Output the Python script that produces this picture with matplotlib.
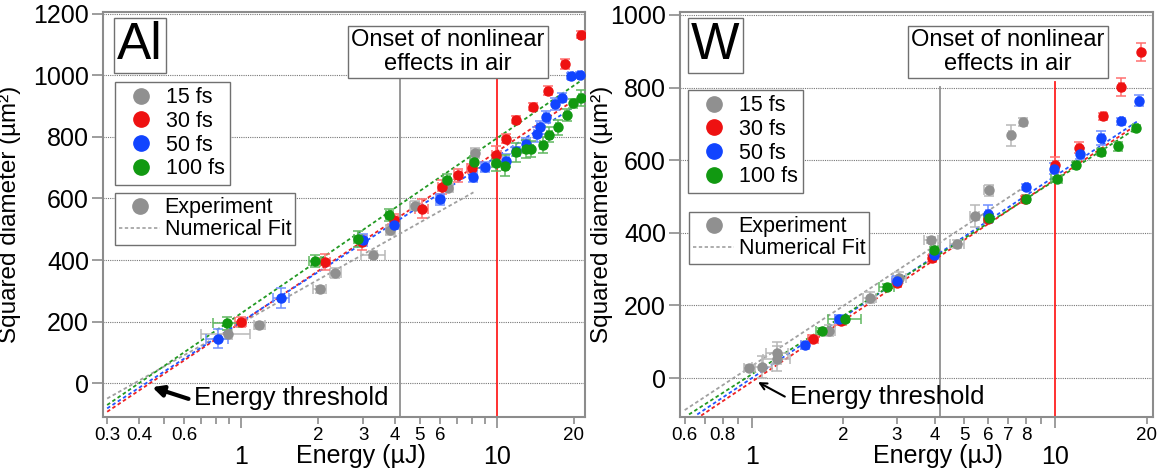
import matplotlib
matplotlib.use('Agg')
import matplotlib.pyplot as plt
from matplotlib.ticker import FixedLocator, FixedFormatter
from matplotlib.lines import Line2D

plt.rcParams['font.family'] = ['Liberation Sans', 'DejaVu Sans']

# ---------------- data: Al panel ----------------
al_gray_E = [0.89, 1.18, 2.03, 2.34, 3.29, 3.84, 4.78, 6.45, 8.2]
al_gray_D = [159, 188, 305, 358, 418, 498, 577, 635, 748]
al_gray_dE = [0.19, 0.06, 0.12, 0.12, 0.35, 0.15, 0.2, 0.3, 0.3]
al_gray_dD = [15, 12, 12, 15, 10, 15, 15, 12, 15]

al_red_E = [1.0, 2.13, 2.96, 3.96, 5.1, 6.08, 7.06, 7.96, 9.96, 10.9, 11.9, 13.8, 15.8, 18.4, 21.3]
al_red_D = [199, 394, 458, 529, 567, 637, 675, 698, 742, 794, 856, 898, 950, 1037, 1132]
al_red_dE = [0.05, 0.1, 0.1, 0.15, 0.3, 0.2, 0.25, 0.3, 0.4, 0.3, 0.3, 0.3, 0.3, 0.4, 0.4]
al_red_dD = [15, 25, 25, 20, 30, 22, 20, 15, 30, 15, 12, 12, 15, 15, 12]

al_blue_E = [0.81, 1.44, 3.0, 3.96, 5.99, 8.09, 8.98, 10.9, 11.9, 13.0, 14.3, 14.7, 15.6, 16.9, 18.0, 19.4, 21.1]
al_blue_D = [145, 277, 466, 515, 597, 671, 702, 723, 753, 777, 808, 831, 864, 907, 927, 999, 1002]
al_blue_dE = [0.08, 0.1, 0.1, 0.12, 0.2, 0.25, 0.3, 0.3, 0.3, 0.3, 0.3, 0.3, 0.35, 0.35, 0.4, 0.4, 0.4]
al_blue_dD = [30, 32, 20, 15, 18, 18, 15, 20, 15, 20, 25, 20, 20, 18, 15, 10, 10]

al_green_E = [0.88, 1.95, 2.87, 3.8, 6.36, 8.13, 9.9, 10.8, 11.9, 13.0, 13.6, 15.1, 16.0, 17.3, 18.8, 19.8, 21.3]
al_green_D = [194, 397, 469, 547, 661, 718, 715, 707, 750, 761, 761, 774, 807, 831, 872, 909, 927]
al_green_dE = [0.1, 0.1, 0.1, 0.12, 0.2, 0.25, 0.3, 0.3, 0.3, 0.3, 0.3, 0.35, 0.35, 0.35, 0.4, 0.4, 0.4]
al_green_dD = [20, 20, 25, 20, 20, 20, 25, 35, 30, 30, 25, 25, 25, 25, 20, 15, 25]

# numerical fits (end points of the straight lines on log axis)
al_fit_gray = ([0.3, 8.1], [-50, 620])
al_fit_red = ([0.3, 20.5], [-93, 925])
al_fit_blue = ([0.3, 21.5], [-82, 915])
al_fit_green = ([0.3, 21.5], [-71, 985])

# ---------------- data: W panel ----------------
w_gray_E = [0.98, 1.08, 1.21, 1.21, 1.80, 2.45, 3.06, 3.9, 4.74, 5.42, 6.03, 7.14, 7.82]
w_gray_D = [27, 31, 54, 69, 130, 221, 276, 381, 369, 447, 517, 668, 705]
w_gray_dE = [0.04, 0.08, 0.12, 0.1, 0.08, 0.12, 0.15, 0.2, 0.25, 0.2, 0.2, 0.1, 0.1]
w_gray_dD = [8, 30, 35, 30, 15, 15, 15, 8, 10, 30, 15, 30, 10]

w_red_E = [1.59, 1.96, 3.0, 3.92, 6.0, 7.95, 10.0, 12.0, 14.4, 16.5, 19.1]
w_red_D = [109, 157, 261, 330, 437, 492, 588, 634, 721, 801, 899]
w_red_dE = [0.06, 0.08, 0.1, 0.1, 0.2, 0.2, 0.1, 0.2, 0.3, 0.3, 0.1]
w_red_dD = [10, 10, 10, 10, 10, 10, 20, 15, 10, 25, 25]

w_blue_E = [1.49, 1.94, 3.0, 3.99, 6.0, 8.02, 9.87, 12.1, 14.2, 16.5, 18.9]
w_blue_D = [90, 163, 268, 340, 453, 527, 576, 618, 661, 707, 764]
w_blue_dE = [0.04, 0.06, 0.1, 0.1, 0.1, 0.1, 0.1, 0.15, 0.3, 0.2, 0.2]
w_blue_dD = [10, 10, 12, 8, 25, 8, 15, 15, 20, 10, 15]

w_green_E = [1.70, 2.03, 2.78, 3.99, 6.03, 8.02, 10.1, 11.7, 14.2, 16.1, 18.4]
w_green_D = [130, 163, 252, 353, 442, 492, 547, 588, 623, 638, 690]
w_green_dE = [0.08, 0.25, 0.15, 0.1, 0.2, 0.2, 0.4, 0.3, 0.4, 0.3, 0.3]
w_green_dD = [8, 8, 8, 8, 8, 8, 8, 8, 8, 12, 8]

w_fit_gray = ([0.6, 8.07], [-88, 531])
w_fit_red = ([0.68, 18.6], [-103, 698])
w_fit_blue = ([0.66, 18.8], [-100, 709])
w_fit_green = ([0.62, 18.6], [-100, 689])

pulse_labels = ['15 fs', '30 fs', '50 fs', '100 fs']
colors = ['#909090', '#ee1111', '#1144ff', '#119911']
err_colors = ['#b8b8b8', '#ff7070', '#7090ff', '#60b860']
fit_colors = ['#a0a0a0', '#ee2222', '#2255ff', '#229922']

frame_col = '#8c8c8c'


def draw_panel(ax, series, fits, ylim, xlim, yticks, minor_ticks, minor_labels,
               gray_line_E, line_top, name, thr_xy, thr_text_xy, thick_arrow,
               leg1_pos, leg2_pos, name_pos, onset_pos):
    ax.set_xscale('log')
    ax.set_xlim(*xlim)
    ax.set_ylim(*ylim)

    for (x, y), c in zip(fits, fit_colors):
        ax.plot(x, y, color=c, lw=1.3, dashes=(2, 1.5), zorder=2)

    for (E, D, dE, dD), c, ec in zip(series, colors, err_colors):
        ax.errorbar(E, D, xerr=dE, yerr=dD, fmt='o', ms=6.5, color=c,
                    ecolor=ec, elinewidth=1.1, capsize=3.5, capthick=1.1, zorder=3)

    ax.axvline(gray_line_E, ymax=line_top[0], color='#909090', lw=1.3, zorder=1)
    ax.axvline(10, ymax=line_top[1], color='#ff2020', lw=1.3, zorder=1)

    ax.set_yticks(yticks)
    ax.yaxis.grid(True, linestyle=(0, (1, 1)), color='#777777', lw=0.8)
    ax.set_axisbelow(True)

    ax.xaxis.set_major_locator(FixedLocator([1, 10]))
    ax.xaxis.set_major_formatter(FixedFormatter(['1', '10']))
    ax.xaxis.set_minor_locator(FixedLocator(minor_ticks))
    ax.xaxis.set_minor_formatter(FixedFormatter(minor_labels))
    ax.tick_params(axis='x', which='major', length=8, pad=12, labelsize=18,
                   color=frame_col, width=1.2)
    ax.tick_params(axis='x', which='minor', length=5, pad=2, labelsize=13.5,
                   color=frame_col, width=1.2)
    ax.tick_params(axis='y', length=8, pad=2, labelsize=18, color=frame_col, width=1.2)

    for sp in ax.spines.values():
        sp.set_color(frame_col)
        sp.set_linewidth(1.5)

    ax.set_ylabel('Squared diameter (µm²)', fontsize=17.5)
    ax.set_xlabel('Energy (µJ)', fontsize=18)

    # Energy threshold arrow
    if thick_arrow:
        aprops = dict(arrowstyle='-|>', lw=3, color='black', mutation_scale=16,
                      shrinkA=2, shrinkB=0, relpos=(0, 0.4))
    else:
        aprops = dict(arrowstyle='->', lw=1.5, color='black', mutation_scale=12,
                      shrinkA=2, shrinkB=0, relpos=(0, 0.4))
    ax.annotate('Energy threshold', xy=thr_xy, xytext=thr_text_xy,
                fontsize=18.5, ha='left', va='center', arrowprops=aprops, zorder=5)

    # legends
    h1 = [Line2D([], [], ls='none', marker='o', ms=11, color=c) for c in colors]
    leg1 = ax.legend(h1, pulse_labels, loc='upper left', bbox_to_anchor=leg1_pos,
                     bbox_transform=fig.transFigure, borderaxespad=0,
                     fontsize=15.5, frameon=True, fancybox=False, edgecolor='#707070',
                     framealpha=1, handlelength=1.9, handletextpad=0.2,
                     labelspacing=0.12, borderpad=0.25)
    leg1.get_frame().set_linewidth(1.0)
    ax.add_artist(leg1)
    h2 = [Line2D([], [], ls='none', marker='o', ms=11, color=colors[0]),
          Line2D([], [], color='#a0a0a0', lw=1.2, dashes=(2, 1.5))]
    leg2 = ax.legend(h2, ['Experiment', 'Numerical Fit'], loc='upper left',
                     bbox_to_anchor=leg2_pos, bbox_transform=fig.transFigure,
                     borderaxespad=0, fontsize=15.5, frameon=True, fancybox=False,
                     edgecolor='#707070', framealpha=1, handlelength=1.9,
                     handletextpad=0.2, labelspacing=0.05, borderpad=0.2)
    leg2.get_frame().set_linewidth(1.0)

    fig.text(name_pos[0], name_pos[1], name, fontsize=37, ha='left', va='top',
             bbox=dict(boxstyle='square,pad=0.06', fc='white', ec='#707070', lw=1.0))
    fig.text(onset_pos[0], onset_pos[1], 'Onset of nonlinear\neffects in air',
             fontsize=17, ha='center', va='center', linespacing=1.1,
             bbox=dict(boxstyle='square,pad=0.12', fc='white', ec='#707070', lw=1.0))


W, H = 1161, 470
fig = plt.figure(figsize=(W / 100, H / 100), dpi=100)
axL = fig.add_axes([103 / W, 53 / H, 482 / W, 405 / H])
axR = fig.add_axes([680 / W, 53 / H, 473 / W, 405 / H])

draw_panel(
    axL,
    [(al_gray_E, al_gray_D, al_gray_dE, al_gray_dD),
     (al_red_E, al_red_D, al_red_dE, al_red_dD),
     (al_blue_E, al_blue_D, al_blue_dE, al_blue_dD),
     (al_green_E, al_green_D, al_green_dE, al_green_dD)],
    [al_fit_gray, al_fit_red, al_fit_blue, al_fit_green],
    ylim=(-110, 1206), xlim=(0.289, 22.1),
    yticks=[0, 200, 400, 600, 800, 1000, 1200],
    minor_ticks=[0.3, 0.4, 0.5, 0.6, 0.7, 0.8, 0.9, 2, 3, 4, 5, 6, 7, 8, 9, 20],
    minor_labels=['0.3', '0.4', '', '0.6', '', '', '', '2', '3', '4', '5', '6', '', '', '', '20'],
    gray_line_E=4.18, line_top=(0.835, 0.835), name='Al',
    thr_xy=(0.45, -13), thr_text_xy=(0.655, -49), thick_arrow=True,
    leg1_pos=(115 / W, 1 - 82 / H), leg2_pos=(115 / W, 1 - 193 / H),
    name_pos=(117 / W, 1 - 21 / H), onset_pos=(448 / W, 1 - 52 / H))

draw_panel(
    axR,
    [(w_gray_E, w_gray_D, w_gray_dE, w_gray_dD),
     (w_red_E, w_red_D, w_red_dE, w_red_dD),
     (w_blue_E, w_blue_D, w_blue_dE, w_blue_dD),
     (w_green_E, w_green_D, w_green_dE, w_green_dD)],
    [w_fit_gray, w_fit_red, w_fit_blue, w_fit_green],
    ylim=(-107, 1008), xlim=(0.579, 21.0),
    yticks=[0, 200, 400, 600, 800, 1000],
    minor_ticks=[0.6, 0.7, 0.8, 0.9, 2, 3, 4, 5, 6, 7, 8, 9, 20],
    minor_labels=['0.6', '', '0.8', '', '2', '3', '4', '5', '6', '7', '8', '', '20'],
    gray_line_E=4.17, line_top=(0.815, 0.827), name='W',
    thr_xy=(1.047, -11), thr_text_xy=(1.335, -52), thick_arrow=False,
    leg1_pos=(688 / W, 1 - 90 / H), leg2_pos=(689 / W, 1 - 212 / H),
    name_pos=(691 / W, 1 - 21 / H), onset_pos=(1008 / W, 1 - 52 / H))

# axis label positions (va top for x label, centre for y label)
axL.xaxis.set_label_coords(0.535, -0.066)
axR.xaxis.set_label_coords(0.545, -0.066)
axL.yaxis.set_label_coords(-0.17, 0.5)
axR.yaxis.set_label_coords(-0.142, 0.5)

fig.savefig('out.png', dpi=100)
